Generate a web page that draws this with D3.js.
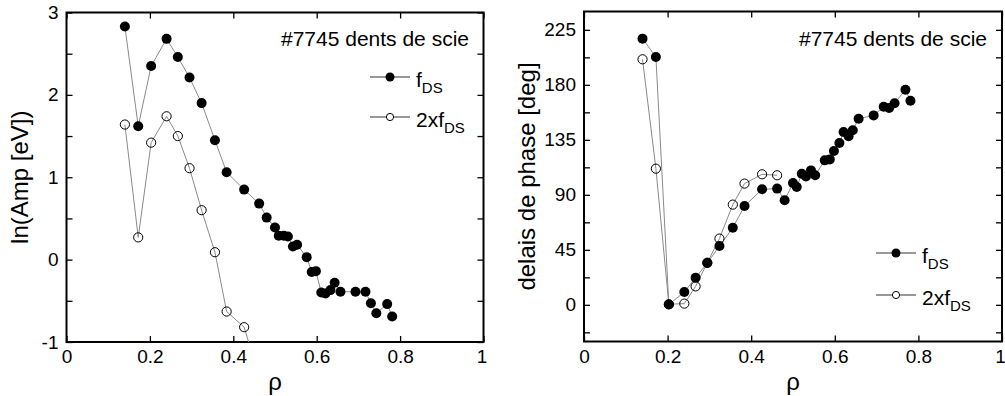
<!DOCTYPE html>
<html><head><meta charset="utf-8">
<script src="https://cdn.jsdelivr.net/npm/d3@7"></script>
<style>
html,body{margin:0;padding:0;background:#fff;}
svg{display:block;font-family:"Liberation Sans",Arial,sans-serif;}
</style></head>
<body>
<svg id="chart" width="1005" height="396"></svg>
<script>
// ---- data ----
const rho = [0.140,0.172,0.203,0.240,0.267,0.295,0.324,0.356,0.384,0.426,0.462,0.480,0.500,0.509,0.521,0.531,0.543,0.553,0.576,0.588,0.598,0.611,0.621,0.633,0.643,0.657,0.693,0.717,0.730,0.743,0.769,0.781];
const lnAmpF = [2.83,1.62,2.35,2.68,2.46,2.21,1.90,1.45,1.06,0.85,0.68,0.51,0.39,0.29,0.29,0.28,0.16,0.18,0.03,-0.15,-0.14,-0.40,-0.41,-0.37,-0.28,-0.39,-0.39,-0.39,-0.53,-0.65,-0.54,-0.69];
const rho2 = [0.140,0.172,0.203,0.240,0.267,0.295,0.324,0.356,0.384,0.426,0.462];
const lnAmp2F = [1.64,0.27,1.42,1.74,1.50,1.11,0.60,0.09,-0.63,-0.82,-1.42];
const phaseF = [217.8,202.8,0.2,10.5,22.2,34.2,48.1,63.1,80.8,94.5,95.1,85.5,99.7,96.4,107.3,105,110,106,118.2,119,125.8,132.4,141.4,137.9,142.8,152.3,155,162,161,165,176,167];
const phase2F = [200.9,111.4,0.5,1.0,15.1,34.5,54.2,82.0,99.2,106.8,106.0];
const xTicks = [0,0.2,0.4,0.6,0.8,1];
const yTicksL = [-1,-0.5,0,0.5,1,1.5,2,2.5,3];
const yTicksR = [-22.5,0,22.5,45,67.5,90,112.5,135,157.5,180,202.5,225];
const title = "#7745 dents de scie";
const legendNames = ["f", "2xf"];
const legendSub = "DS";

const svg = d3.select("#chart");
const FS = 19;     // tick labels
const FA = 24;     // axis titles
const FT = 21;     // title, legend

function panel(cfg){
  const {x, y, yTicks, yFmt, ylabel, ylabelX, series, legendY, legendX, titleX, id} = cfg;
  const g = svg.append("g");
  const [x0,x1] = x.range(), [yb,yt] = y.range();
  g.append("clipPath").attr("id",id).append("rect")
    .attr("x",x0).attr("y",yt).attr("width",x1-x0).attr("height",yb-yt);
  const ax = (gen, tx, ty, vals, fmt) => {
    const a = g.append("g").attr("transform",`translate(${tx},${ty})`)
      .call(gen.tickValues(vals).tickSize(-6).tickPadding(8).tickFormat(fmt));
    a.select(".domain").remove();
    a.selectAll(".tick line").attr("stroke","#000").attr("stroke-width",1.3);
    a.selectAll("text").attr("font-size",FS).attr("fill","#000").attr("font-family","Liberation Sans, Arial, sans-serif");
    return a;
  };
  const bx = ax(d3.axisBottom(x), 0, yb, xTicks, d=>d3.format("")(d));
  bx.selectAll(".tick text").filter(d=>d===1).attr("dx",-2);
  ax(d3.axisTop(x), 0, yt, xTicks, ()=>"");
  ax(d3.axisLeft(y), x0, 0, yTicks, yFmt);
  ax(d3.axisRight(y), x1, 0, yTicks, ()=>"");
  g.append("rect").attr("x",x0).attr("y",yt).attr("width",x1-x0).attr("height",yb-yt)
    .attr("fill","none").attr("stroke","#000").attr("stroke-width",2);
  g.append("text").attr("x",(x0+x1)/2).attr("y",390).attr("text-anchor","middle")
    .attr("font-size",FA).text("ρ");
  g.append("text").attr("transform",`translate(${ylabelX},${(yt+yb)/2}) rotate(-90)`)
    .attr("text-anchor","middle").attr("font-size",FA).text(ylabel);
  g.append("text").attr("x",titleX).attr("y",46).attr("font-size",FT).text(title);
  const dg = g.append("g").attr("clip-path",`url(#${id})`);
  const line = d3.line().x(d=>x(d[0])).y(d=>y(d[1]));
  series.forEach(s=>{
    const pts = s.xs.map((v,i)=>[v,s.ys[i]]);
    dg.append("path").datum(pts).attr("d",line).attr("fill","none")
      .attr("stroke","#8a8a8a").attr("stroke-width",1);
  });
  series.slice().reverse().forEach(s=>{
    const pts = s.xs.map((v,i)=>[v,s.ys[i]]);
    dg.selectAll(null).data(pts).enter().append("circle")
      .attr("cx",d=>x(d[0])).attr("cy",d=>y(d[1])).attr("r",s.filled?5:4.6)
      .attr("fill",s.filled?"#000":"none").attr("stroke","#000").attr("stroke-width",s.filled?0:1);
  });
  series.forEach((s,i)=>{
    const ly = legendY[i];
    g.append("line").attr("x1",legendX).attr("x2",legendX+40).attr("y1",ly).attr("y2",ly)
      .attr("stroke","#333").attr("stroke-width",1);
    g.append("circle").attr("cx",legendX+20).attr("cy",ly).attr("r",s.filled?4.5:3.6)
      .attr("fill",s.filled?"#000":"#fff").attr("stroke","#000").attr("stroke-width",s.filled?0:1);
    const t = g.append("text").attr("x",legendX+46).attr("y",ly+10).attr("font-size",FT);
    t.append("tspan").text(legendNames[i]);
    t.append("tspan").attr("dy",6).attr("font-size",15).text(legendSub);
  });
}

panel({
  id:"clipL",
  x: d3.scaleLinear([0,1],[66.5,483.5]),
  y: d3.scaleLinear([-1,3],[342,12.5]),
  yTicks: yTicksL,
  yFmt: d => Number.isInteger(d) ? String(d) : "",
  ylabel: "ln(Amp [eV])", ylabelX: 28,
  series: [{xs:rho, ys:lnAmpF, filled:true},{xs:rho2, ys:lnAmp2F, filled:false}],
  legendY:[77,117], legendX:370, titleX:281
});
panel({
  id:"clipR",
  x: d3.scaleLinear([0,1],[584,1002]),
  y: d3.scaleLinear([-30,240],[341.5,11.5]),
  yTicks: yTicksR,
  yFmt: d => (d>=0 && d%45===0) ? String(d) : "",
  ylabel: "delais de phase [deg]", ylabelX: 535,
  series: [{xs:rho, ys:phaseF, filled:true},{xs:rho2, ys:phase2F, filled:false}],
  legendY:[253,295], legendX:876, titleX:799
});
</script>
</body></html>
